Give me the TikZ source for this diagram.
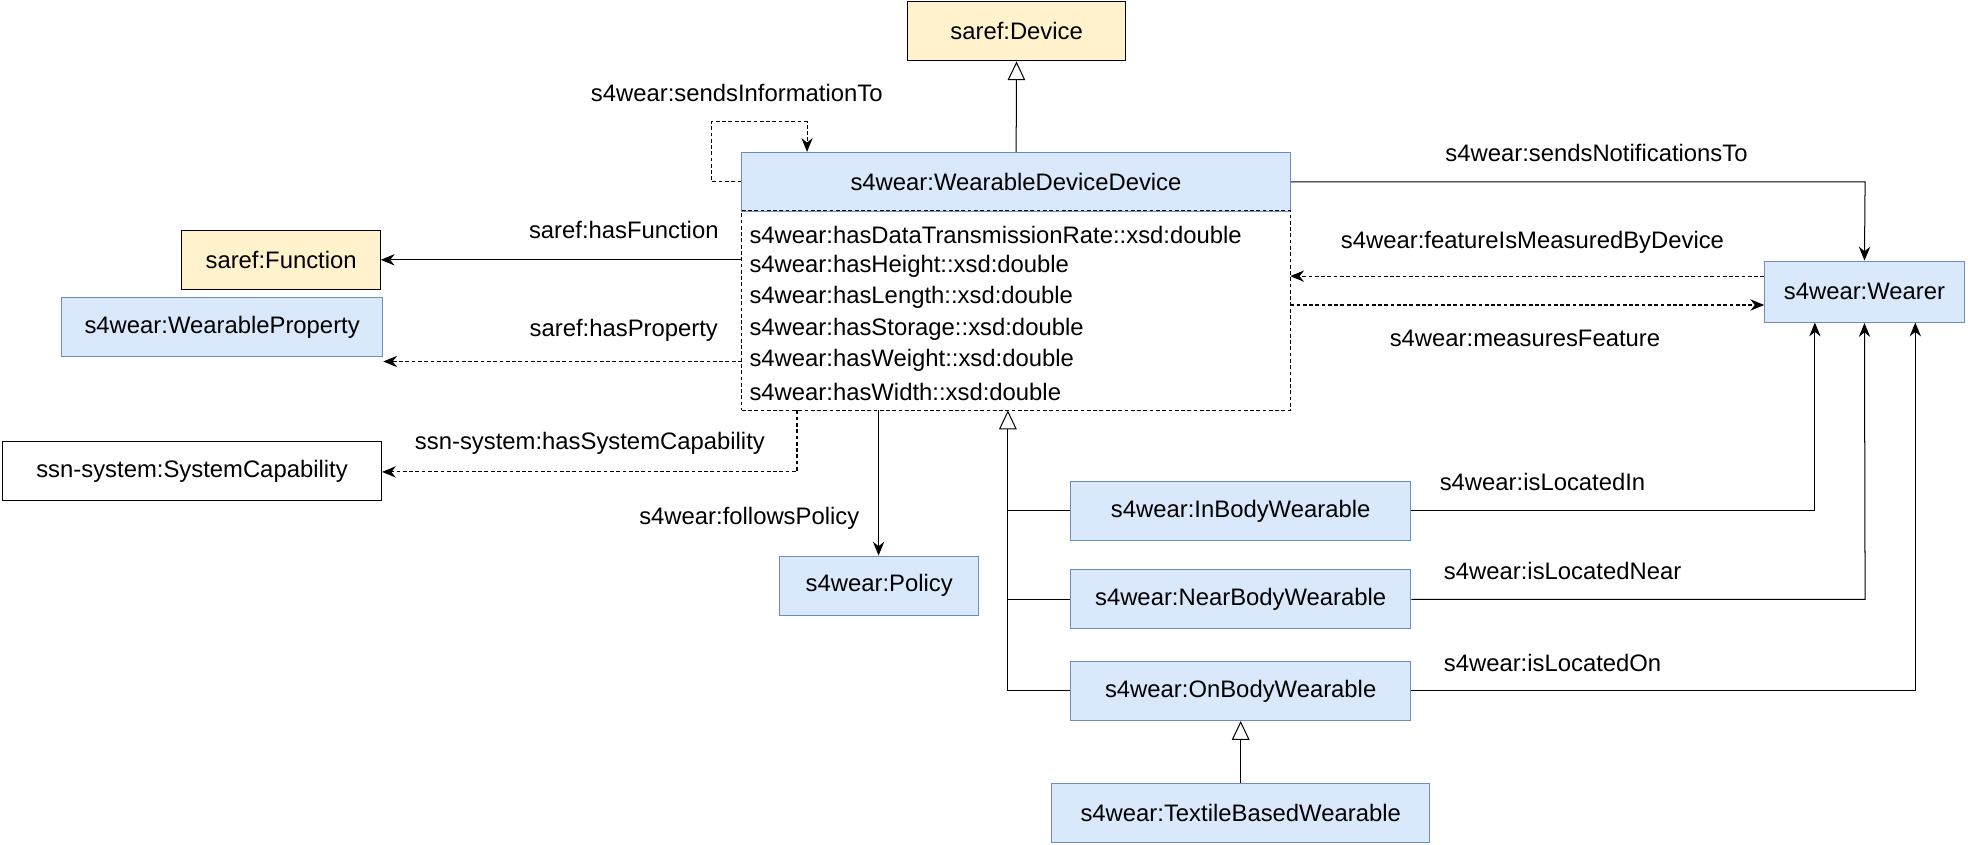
\documentclass[tikz,border=0pt]{standalone}
\usepackage{fontspec}
\setmainfont{Liberation Sans}
\usetikzlibrary{arrows.meta}
\definecolor{blueF}{HTML}{DAE8FC}
\definecolor{blueD}{HTML}{6C8EBF}
\definecolor{yelF}{HTML}{FFF2CC}
\tikzset{
  box/.style={draw, thick, minimum height=47pt, inner sep=0pt},
  cls/.style={box, fill=blueF, draw=blueD},
  ext/.style={box, fill=yelF, draw=black},
  lbl/.style={inner sep=0pt},
  rel/.style={thick, -{Stealth[length=11pt,width=9pt]}},
  drel/.style={rel, densely dashed},
  isa/.style={thick, -{Triangle[open, length=15pt, width=14pt]}}
}
\begin{document}
\begin{tikzpicture}[x=1pt, y=-1pt, font=\fontsize{19}{23}\selectfont]
\useasboundingbox (0,0) rectangle (1568,673);
% classes
\node[ext, minimum width=174pt] (device) at (810,25) {saref:Device};
\node[cls, minimum width=437pt] (wdd) at (809.5,145) {s4wear:WearableDeviceDevice};
\node[draw, densely dashed, thick, minimum width=437pt, minimum height=159pt, inner sep=0pt] (attr) at (809.5,247.5) {};
\foreach \a [count=\i] in {hasDataTransmissionRate::xsd:double, hasHeight::xsd:double,
  hasLength::xsd:double, hasStorage::xsd:double, hasWeight::xsd:double, hasWidth::xsd:double}
  \node[lbl, anchor=west] (attr\i) at (597,162+25*\i) {s4wear:\a};
\node[ext, minimum width=158pt] (func) at (224,207) {saref:Function};
\node[cls, minimum width=256pt] (prop) at (177,260.5) {s4wear:WearableProperty};
\node[box, minimum width=302pt] (cap) at (153,375.5) {ssn-system:SystemCapability};
\node[cls, minimum width=159pt] (policy) at (700.5,466.5) {s4wear:Policy};
\node[cls, minimum width=159pt, minimum height=49pt] (wearer) at (1485.5,232.5) {s4wear:Wearer};
\node[cls, minimum width=271pt] (inbody) at (988.5,407) {s4wear:InBodyWearable};
\node[cls, minimum width=271pt] (nearbody) at (988.5,477.5) {s4wear:NearBodyWearable};
\node[cls, minimum width=271pt] (onbody) at (988.5,550.5) {s4wear:OnBodyWearable};
\node[cls, minimum width=301pt] (textile) at (988.5,647.5) {s4wear:TextileBasedWearable};
% subclass links
\draw[isa] (wdd) -- (device);
\draw[isa] (inbody.west) -- (803,407) -- (803,327);
\draw[thick] (nearbody.west) -- (803,477.5) -- (803,400);
\draw[thick] (onbody.west) -- (803,550.5) -- (803,470);
\draw[isa] (textile) -- (onbody);
% properties
\draw[drel] (wdd.west) -- (567,145) -- (567,97) -- (643,97) -- (643,121);
\node[lbl] (l1) at (587,74) {s4wear:sendsInformationTo};
\draw[rel] (591,207) -- (func.east);
\node[lbl] (l2) at (497,183) {saref:hasFunction};
\draw[drel] (591,288) -- (prop.east |- 0,288);
\node[lbl] (l3) at (497,263) {saref:hasProperty};
\draw[drel] (635,327) -- (635,376) -- (cap.east |- 0,376);
\node[lbl] (l4) at (470,353) {ssn-system:hasSystemCapability};
\draw[rel] (700,327) -- (policy.north -| 700,0);
\node[lbl] (l5) at (597,413) {s4wear:followsPolicy};
\draw[rel] (wdd.east) -- (1486,145) -- (wearer.north);
\node[lbl] (l6) at (1272,122) {s4wear:sendsNotificationsTo};
\draw[drel] (wearer.west |- 0,220) -- (1028,220);
\node[lbl] (l7) at (1221,193) {s4wear:featureIsMeasuredByDevice};
\draw[drel] (1028,243) -- (wearer.west |- 0,243);
\node[lbl] (l8) at (1215,270) {s4wear:measuresFeature};
\draw[rel] (inbody.east) -- (1446,407) -- (1446,257);
\node[lbl] (l9) at (1229,384) {s4wear:isLocatedIn};
\draw[rel] (nearbody.east) -- (1486,477.5) -- (wearer.south);
\node[lbl] (l10) at (1245,455) {s4wear:isLocatedNear};
\draw[rel] (onbody.east) -- (1526,550.5) -- (1526,257);
\node[lbl] (l11) at (1237,528) {s4wear:isLocatedOn};
\end{tikzpicture}
\end{document}
